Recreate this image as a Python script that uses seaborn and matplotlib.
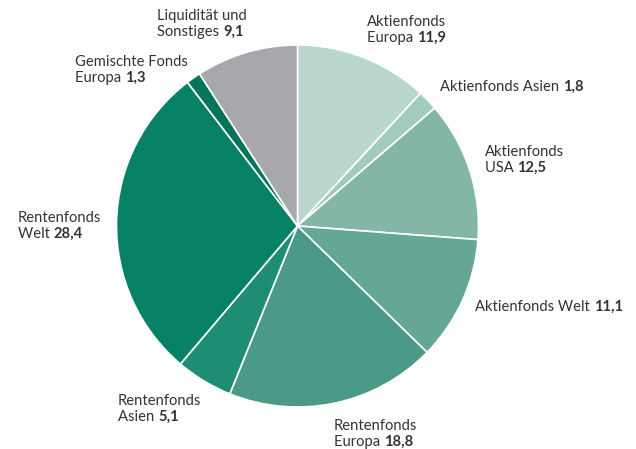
import matplotlib
matplotlib.use("Agg")
import matplotlib.pyplot as plt
import seaborn as sns

categories = [
    "Aktienfonds Europa", "Aktienfonds Asien", "Aktienfonds USA",
    "Aktienfonds Welt", "Rentenfonds Europa", "Rentenfonds Asien",
    "Rentenfonds Welt", "Gemischte Fonds Europa", "Liquidität und Sonstiges",
]
values = [11.9, 1.8, 12.5, 11.1, 18.8, 5.1, 28.4, 1.3, 9.1]
colors = ["#bad7cf", "#a2cabf", "#84b6a8", "#64a795", "#4a9a87",
          "#1f8d74", "#068166", "#04755b", "#a7a8ab"]

# label text: (first line, second line prefix) ; value printed bold after it
label_lines = [
    ("Aktienfonds", "Europa "),
    (None, "Aktienfonds Asien "),
    ("Aktienfonds", "USA "),
    (None, "Aktienfonds Welt "),
    ("Rentenfonds", "Europa "),
    ("Rentenfonds", "Asien "),
    ("Rentenfonds", "Welt "),
    ("Gemischte Fonds", "Europa "),
    ("Liquidität und", "Sonstiges "),
]
# left x and baseline y of the last line, in pixels from top-left
label_pos = [(367, 42), (440, 91), (485, 172), (475, 311), (334, 446),
             (118, 421), (18, 238), (75, 82), (157, 36)]

sns.set_theme(style="white")
plt.rcParams["font.family"] = ["Lato", "DejaVu Sans"]
text_color = "#333333"
fs = 10.6

W, H = 636, 449
fig = plt.figure(figsize=(W / 100, H / 100), dpi=100)
ax = fig.add_axes([0, 0, 1, 1])
ax.set_xlim(0, W)
ax.set_ylim(0, H)
ax.axis("off")

ax.pie(values, colors=sns.color_palette(colors), startangle=90, counterclock=False,
       center=(297.5, H - 226), radius=181,
       wedgeprops=dict(edgecolor="white", linewidth=1.2))
ax.set_xlim(0, W)
ax.set_ylim(0, H)
ax.set_aspect("equal")

for (l1, l2), (x, y), v in zip(label_lines, label_pos, values):
    if l1:
        ax.text(x, H - y + 16, l1, fontsize=fs, color=text_color, va="baseline", ha="left")
    t = ax.text(x, H - y, l2, fontsize=fs, color=text_color, va="baseline", ha="left")
    ax.annotate(f"{v:.1f}".replace(".", ","), xy=(1, 0), xycoords=t,
                va="bottom", ha="left", fontsize=fs, fontweight="bold", color=text_color)

fig.savefig("out.png", dpi=100)
